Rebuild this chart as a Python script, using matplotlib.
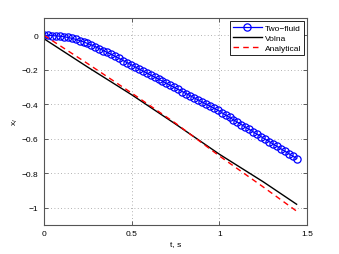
import matplotlib
matplotlib.use("Agg")
import matplotlib.pyplot as plt

# Two-fluid series
t_two = [0.0000, 0.0225, 0.0450, 0.0675, 0.0900, 0.1125, 0.1350, 0.1575, 0.1800, 0.2025,
         0.2250, 0.2475, 0.2700, 0.2925, 0.3150, 0.3375, 0.3600, 0.3825, 0.4050, 0.4275,
         0.4500, 0.4725, 0.4950, 0.5175, 0.5400, 0.5625, 0.5850, 0.6075, 0.6300, 0.6525,
         0.6750, 0.6975, 0.7200, 0.7425, 0.7650, 0.7875, 0.8100, 0.8325, 0.8550, 0.8775,
         0.9000, 0.9225, 0.9450, 0.9675, 0.9900, 1.0125, 1.0350, 1.0575, 1.0800, 1.1025,
         1.1250, 1.1475, 1.1700, 1.1925, 1.2150, 1.2375, 1.2600, 1.2825, 1.3050, 1.3275,
         1.3500, 1.3725, 1.3950, 1.4175, 1.4400]
x_two = [0.000, -0.000, -0.001, -0.003, -0.005, -0.008, -0.012, -0.017, -0.023, -0.030,
         -0.038, -0.047, -0.056, -0.066, -0.077, -0.088, -0.099, -0.110, -0.122, -0.134,
         -0.146, -0.158, -0.170, -0.182, -0.194, -0.206, -0.218, -0.230, -0.242, -0.254,
         -0.266, -0.278, -0.290, -0.302, -0.314, -0.326, -0.338, -0.350, -0.362, -0.374,
         -0.386, -0.398, -0.410, -0.422, -0.434, -0.448, -0.462, -0.476, -0.490, -0.504,
         -0.518, -0.532, -0.546, -0.560, -0.574, -0.588, -0.602, -0.616, -0.630, -0.644,
         -0.658, -0.672, -0.686, -0.700, -0.715]

# Volna series
t_volna = [0.0, 0.25, 0.5, 0.75, 1.0, 1.25, 1.44]
x_volna = [-0.02, -0.185, -0.345, -0.515, -0.69, -0.85, -0.98]

# Analytical series
t_anal = [0.0, 0.25, 0.5, 0.75, 1.0, 1.25, 1.44]
x_anal = [0.0, -0.165, -0.335, -0.51, -0.70, -0.88, -1.02]

xticks = [0, 0.5, 1, 1.5]
xtick_labels = ["0", "0.5", "1", "1.5"]
yticks = [0, -0.2, -0.4, -0.6, -0.8, -1]
ytick_labels = ["0", "\u22120.2", "\u22120.4", "\u22120.6", "\u22120.8", "\u22121"]

plt.rcParams['font.family'] = ['Liberation Sans', 'DejaVu Sans']

fig = plt.figure(figsize=(3.39, 2.55), dpi=100)
ax = fig.add_axes([0.130, 0.114, 0.776, 0.811])

ax.plot(t_two, x_two, color='#0000ff', lw=0.9, marker='o', markersize=5.2,
        markerfacecolor='none', markeredgewidth=0.9, label='Two\u2212fluid')
ax.plot(t_volna, x_volna, color='black', lw=1.0, label='Volna')
ax.plot(t_anal, x_anal, color='red', lw=1.0, ls=(0, (4, 3)), label='Analytical')

ax.set_xlim(0, 1.5)
ax.set_ylim(-1.1, 0.1)
ax.set_xticks(xticks)
ax.set_xticklabels(xtick_labels)
ax.set_yticks(yticks)
ax.set_yticklabels(ytick_labels)
ax.tick_params(direction='in', top=True, right=True, length=3, width=0.6,
               labelsize=6, color='#444444', pad=4)
for s in ax.spines.values():
    s.set_color('#555555')
    s.set_linewidth(0.8)
ax.grid(True, ls=(0, (1, 3)), color='#999999', lw=0.6)

ax.set_xlabel('t, s', fontsize=6, labelpad=2)
ax.set_ylabel('x$_l$', fontsize=6, labelpad=1.5)

leg = ax.legend(loc='upper right', fontsize=6, fancybox=False, framealpha=1,
                edgecolor='black', handlelength=3.4, numpoints=1,
                borderpad=0.35, labelspacing=0.25, handletextpad=0.4,
                borderaxespad=0.35)
leg.get_frame().set_linewidth(0.6)

fig.savefig('out.png', dpi=100)
